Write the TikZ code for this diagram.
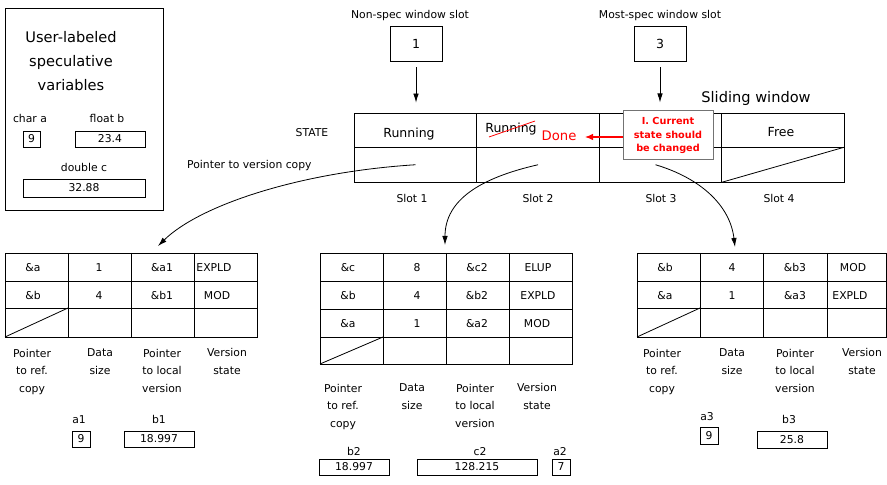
\documentclass[tikz,border=0pt]{standalone}
\usepackage{fontspec}
\setmainfont{DejaVu Sans}
\usetikzlibrary{arrows.meta}
\tikzset{
 sm/.style={font=\fontsize{10.8bp}{13bp}\selectfont, inner sep=0pt, text height=7.9bp, text depth=0pt},
 md/.style={font=\fontsize{12.5bp}{15bp}\selectfont, inner sep=0pt, text height=9.1bp, text depth=0pt},
 lgone/.style={font=\fontsize{14.6bp}{18bp}\selectfont, inner sep=0pt, text height=10.7bp, text depth=0pt},
 lgml/.style={font=\fontsize{14.6bp}{24bp}\selectfont, inner sep=0pt, align=center},
 ml/.style={font=\fontsize{10.8bp}{17.5bp}\selectfont, inner sep=0pt, align=center},
 vbox/.style={sm, draw, line width=0.8bp, minimum height=16bp},
 cell/.style={draw, line width=0.8bp, minimum width=122.5bp, minimum height=34.5bp, inner sep=0pt},
 grid/.style={line width=0.8bp},
 arr/.style={line width=0.8bp, -{Latex[length=9bp,width=5.5bp]}},
 redarr/.style={red, line width=1.1bp, -{Latex[length=8bp,width=6.5bp]}},
}
\begin{document}
\begin{tikzpicture}[x=1bp,y=-1bp]
\useasboundingbox (0,0) rectangle (887,485);

% ---------- left panel ----------
\node[draw, line width=0.8bp, minimum width=158bp, minimum height=202bp, inner sep=0pt] (panel) at (84,109) {};
\node[lgml] (title) at (71,62) {User-labeled\strut\\speculative\strut\\variables\strut};
\node[sm] (chara) at (30,119) {char a};
\node[sm] (floatb) at (107,119) {float b};
\node[vbox, minimum width=17bp] (va) at (31.5,139) {9};
\node[vbox, minimum width=70bp] (vb) at (110,139) {23.4};
\node[sm] (doublec) at (84,168) {double c};
\node[vbox, minimum width=122bp, minimum height=18bp] (vc) at (84,188) {32.88};

% ---------- window slot pointers ----------
\node[sm] (nonspec) at (410,15) {Non-spec window slot};
\node[md, draw, line width=0.8bp, minimum width=52bp, minimum height=35bp] (box1) at (416,43.5) {1};
\node[sm] (mostspec) at (660,15) {Most-spec window slot};
\node[md, draw, line width=0.8bp, minimum width=52bp, minimum height=35bp] (box3) at (660,43.5) {3};

% ---------- sliding window ----------
\node[lgone] (slidlbl) at (756,97) {Sliding window};
\node[sm] (statelbl) at (312,133) {STATE};
\node[cell] (st1) at (415.5,130.25) {};
\node[cell] (st2) at (538,130.25) {};
\node[cell] (st3) at (660.5,130.25) {};
\node[cell] (st4) at (783,130.25) {};
\node[cell] (pt1) at (415.5,164.75) {};
\node[cell] (pt2) at (538,164.75) {};
\node[cell] (pt3) at (660.5,164.75) {};
\node[cell] (pt4) at (783,164.75) {};
\draw[grid] (pt4.south west) -- (pt4.north east);

\node[md] (run1) at (409,133) {Running};
\node[md] (run2) at (511,128) {Running};
\draw[red, line width=0.8bp] (489,137) -- (535,121);
\node[md, red, font=\fontsize{13.2bp}{15bp}\selectfont] (done) at (559,136) {Done};
\node[md] (free) at (781,132) {Free};

\node[sm] (slot1) at (412,199) {Slot 1};
\node[sm] (slot2) at (538,199) {Slot 2};
\node[sm] (slot3) at (661,199) {Slot 3};
\node[sm] (slot4) at (779,199) {Slot 4};
\node[sm, anchor=west] (pvc) at (187,165) {Pointer to version copy};

\draw[arr, shorten <=6bp, shorten >=10bp] (box1.south) -- (box1.south |- st1.north);

% note box
\coordinate (donetip) at (585,137);
\draw[redarr] (623,137) -- (donetip);
\node[draw=black!55, fill=white, line width=1bp, minimum width=90bp, minimum height=49bp, inner sep=0pt, align=center, text=red, font=\fontsize{9.7bp}{13.5bp}\selectfont\bfseries] (note) at (668,135.5) {I. Current\strut\\state should\strut\\be changed\strut};
\draw[arr, shorten <=6bp, shorten >=8bp] (box3.south) -- (box3.south |- note.north);

% ---------- table 1 ----------
\draw[grid] (5,253) rectangle (257,337);
\foreach \y in {281,308} \draw[grid] (5,\y) -- (257,\y);
\foreach \x in {68,131.5,194} \draw[grid] (\x,253) -- (\x,337);
\draw[grid] (5,337) -- (68,308);
\node[sm] (a1r1c1) at (33,268) {\&a};
\node[sm] (a1r1c2) at (99,268) {1};
\node[sm] (a1r1c3) at (162,268) {\&a1};
\node[sm] (a1r1c4) at (214,268) {EXPLD};
\node[sm] (a1r2c1) at (33,296) {\&b};
\node[sm] (a1r2c2) at (99,296) {4};
\node[sm] (a1r2c3) at (162,296) {\&b1};
\node[sm] (a1r2c4) at (217,296) {MOD};
\node[ml] (a1l1) at (32,371) {Pointer\strut\\to ref.\strut\\copy\strut};
\node[ml] (a1l2) at (100,362) {Data\strut\\size\strut};
\node[ml] (a1l3) at (162,371) {Pointer\strut\\to local\strut\\version\strut};
\node[ml] (a1l4) at (227,362) {Version\strut\\state\strut};
\node[sm] (lbla1) at (79,420) {a1};
\node[vbox, minimum width=18bp] (boxa1) at (81,439) {9};
\node[sm] (lblb1) at (159,420) {b1};
\node[vbox, minimum width=70bp] (boxb1) at (159,439) {18.997};

% ---------- table 2 ----------
\draw[grid] (320,253) rectangle (572,364);
\foreach \y in {281,309,337} \draw[grid] (320,\y) -- (572,\y);
\foreach \x in {383,446,509} \draw[grid] (\x,253) -- (\x,364);
\draw[grid] (320,364) -- (383,337);
\node[sm] (a2r1c1) at (348,268) {\&c};
\node[sm] (a2r1c2) at (417,268) {8};
\node[sm] (a2r1c3) at (477,268) {\&c2};
\node[sm] (a2r1c4) at (538,268) {ELUP};
\node[sm] (a2r2c1) at (348,296) {\&b};
\node[sm] (a2r2c2) at (417,296) {4};
\node[sm] (a2r2c3) at (477,296) {\&b2};
\node[sm] (a2r2c4) at (538,296) {EXPLD};
\node[sm] (a2r3c1) at (348,324) {\&a};
\node[sm] (a2r3c2) at (417,324) {1};
\node[sm] (a2r3c3) at (477,324) {\&a2};
\node[sm] (a2r3c4) at (537,324) {MOD};
\node[ml] (a2l1) at (343,406) {Pointer\strut\\to ref.\strut\\copy\strut};
\node[ml] (a2l2) at (412,397) {Data\strut\\size\strut};
\node[ml] (a2l3) at (475,406) {Pointer\strut\\to local\strut\\version\strut};
\node[ml] (a2l4) at (537,397) {Version\strut\\state\strut};
\node[sm] (lblb2) at (354,452) {b2};
\node[vbox, minimum width=70bp] (boxb2) at (354,467) {18.997};
\node[sm] (lblc2) at (480,452) {c2};
\node[vbox, minimum width=120bp] (boxc2) at (477,467) {128.215};
\node[sm] (lbla2) at (560,452) {a2};
\node[vbox, minimum width=18bp] (boxa2) at (561,467) {7};

% ---------- table 3 ----------
\draw[grid] (637,253) rectangle (886.5,337);
\foreach \y in {281,308} \draw[grid] (637,\y) -- (886.5,\y);
\foreach \x in {700,763,827} \draw[grid] (\x,253) -- (\x,337);
\draw[grid] (637,337) -- (700,308);
\node[sm] (a3r1c1) at (665,268) {\&b};
\node[sm] (a3r1c2) at (732,268) {4};
\node[sm] (a3r1c3) at (795,268) {\&b3};
\node[sm] (a3r1c4) at (853,268) {MOD};
\node[sm] (a3r2c1) at (665,296) {\&a};
\node[sm] (a3r2c2) at (732,296) {1};
\node[sm] (a3r2c3) at (795,296) {\&a3};
\node[sm] (a3r2c4) at (850,296) {EXPLD};
\node[ml] (a3l1) at (662,371) {Pointer\strut\\to ref.\strut\\copy\strut};
\node[ml] (a3l2) at (732,362) {Data\strut\\size\strut};
\node[ml] (a3l3) at (795,371) {Pointer\strut\\to local\strut\\version\strut};
\node[ml] (a3l4) at (862,362) {Version\strut\\state\strut};
\node[sm] (lbla3) at (707,417) {a3};
\node[vbox, minimum width=18bp, minimum height=17bp] (boxa3) at (709,435.5) {9};
\node[sm] (lblb3) at (789,420) {b3};
\node[vbox, minimum width=70bp, minimum height=17bp] (boxb3) at (792,439.5) {25.8};

% ---------- curved pointers ----------
\coordinate (tipA) at (158,246);
\coordinate (tipB) at (445,245);
\coordinate (tipC) at (735,247);
\draw[arr] (pt1.center) .. controls (300,172) and (200,205) .. (tipA);
\draw[arr] (pt2.center) .. controls (480,178) and (445,200) .. (tipB);
\draw[arr] ([xshift=-5bp]pt3.center) .. controls (700,178) and (730,205) .. (tipC);
\end{tikzpicture}
\end{document}
